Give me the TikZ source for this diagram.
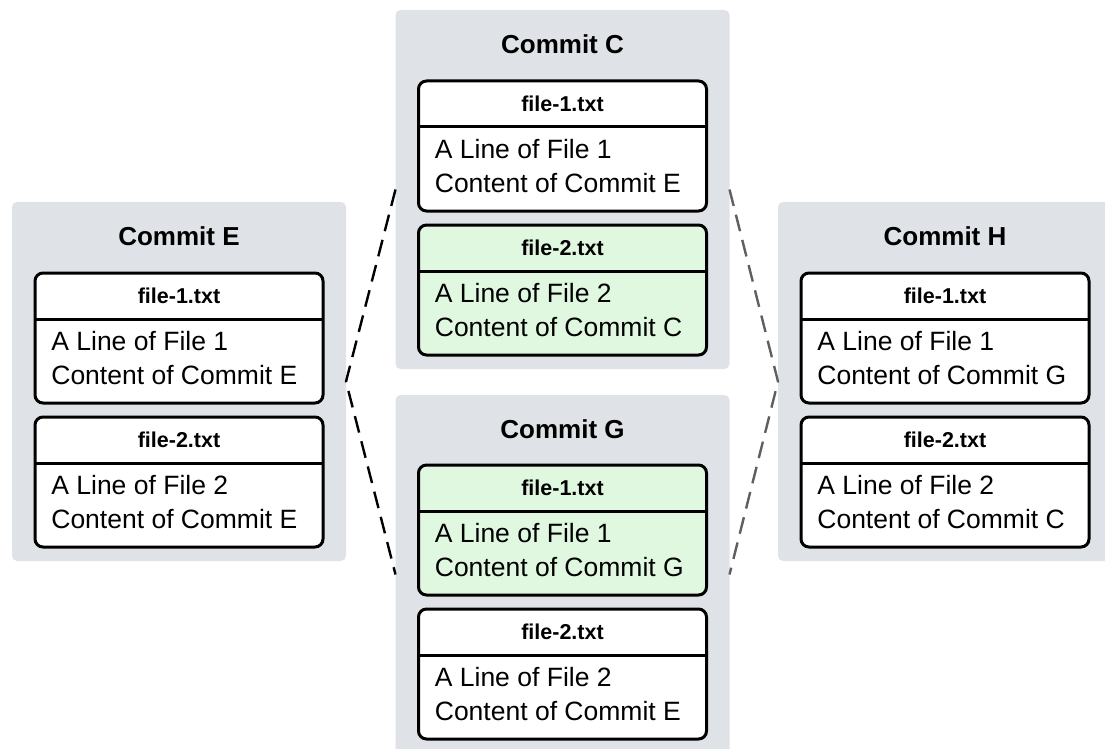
\documentclass[tikz,border=0pt]{standalone}
\usepackage{fontspec}
\setmainfont{Liberation Sans}
\definecolor{panelgray}{RGB}{223,226,231}
\definecolor{changedgreen}{RGB}{224,248,224}
\definecolor{linkgray}{RGB}{95,95,95}
\tikzset{every picture/.style={line width=0.75pt},
  commitpanel/.style={fill=panelgray, rounded corners=5pt, minimum width=334pt, minimum height=359pt, inner sep=0pt, outer sep=0pt},
  committitle/.style={font=\bfseries\fontsize{26}{30}\selectfont, inner sep=0pt},
  filebox/.style={draw=black, line width=3pt, fill=white, rounded corners=8pt, minimum width=288pt, minimum height=130pt, inner sep=0pt, outer sep=0pt},
  filehead/.style={font=\bfseries\fontsize{21.5}{24}\selectfont, inner sep=0pt},
  filetext/.style={font=\fontsize{26.5}{34}\selectfont, align=left, anchor=west, inner sep=0pt},
  dashlink/.style={line width=2.4pt, dash pattern=on 17pt off 9pt}
}
\begin{document}
\begin{tikzpicture}[x=1pt,y=1pt,yscale=-1]
\useasboundingbox (0,0) rectangle (1105,749);
\clip (0,0) rectangle (1105,749);

% Commit Panels
\node [commitpanel] (pE) at (179,381.5) {};
\node [commitpanel] (pC) at (562.5,189.5) {};
\node [commitpanel] (pG) at (562.5,574.5) {};
\node [commitpanel] (pH) at (945,381.5) {};

% Dashed Links
\draw [dashlink]    (pC.west) -- (pE.east) -- (pG.west) ;
\draw [dashlink, linkgray]    (pC.east) -- (pH.west) -- (pG.east) ;

% Commit Titles
\node [committitle] (tE) at (179,236) {Commit E};
\node [committitle] (tC) at (562.5,44) {Commit C};
\node [committitle] (tG) at (562.5,429) {Commit G};
\node [committitle] (tH) at (945,236) {Commit H};

% Commit E
\node [filebox] (e1) at (179,338) {};
\draw [line width=3pt] ([yshift=46pt]e1.north west) -- ([yshift=46pt]e1.north east);
\node [filehead] (e1h) at ([yshift=23pt]e1.north) {file-1.txt};
\node [filetext] (e1t) at ([xshift=16pt,yshift=20pt]e1.west) {A Line of File 1\\Content of Commit E};
\node [filebox] (e2) at (179,482) {};
\draw [line width=3pt] ([yshift=46pt]e2.north west) -- ([yshift=46pt]e2.north east);
\node [filehead] (e2h) at ([yshift=23pt]e2.north) {file-2.txt};
\node [filetext] (e2t) at ([xshift=16pt,yshift=20pt]e2.west) {A Line of File 2\\Content of Commit E};

% Commit C
\node [filebox] (c1) at (562.5,146) {};
\draw [line width=3pt] ([yshift=46pt]c1.north west) -- ([yshift=46pt]c1.north east);
\node [filehead] (c1h) at ([yshift=23pt]c1.north) {file-1.txt};
\node [filetext] (c1t) at ([xshift=16pt,yshift=20pt]c1.west) {A Line of File 1\\Content of Commit E};
\node [filebox, fill=changedgreen] (c2) at (562.5,290) {};
\draw [line width=3pt] ([yshift=46pt]c2.north west) -- ([yshift=46pt]c2.north east);
\node [filehead] (c2h) at ([yshift=23pt]c2.north) {file-2.txt};
\node [filetext] (c2t) at ([xshift=16pt,yshift=20pt]c2.west) {A Line of File 2\\Content of Commit C};

% Commit G
\node [filebox, fill=changedgreen] (g1) at (562.5,530) {};
\draw [line width=3pt] ([yshift=46pt]g1.north west) -- ([yshift=46pt]g1.north east);
\node [filehead] (g1h) at ([yshift=23pt]g1.north) {file-1.txt};
\node [filetext] (g1t) at ([xshift=16pt,yshift=20pt]g1.west) {A Line of File 1\\Content of Commit G};
\node [filebox] (g2) at (562.5,674) {};
\draw [line width=3pt] ([yshift=46pt]g2.north west) -- ([yshift=46pt]g2.north east);
\node [filehead] (g2h) at ([yshift=23pt]g2.north) {file-2.txt};
\node [filetext] (g2t) at ([xshift=16pt,yshift=20pt]g2.west) {A Line of File 2\\Content of Commit E};

% Commit H
\node [filebox] (h1) at (945,338) {};
\draw [line width=3pt] ([yshift=46pt]h1.north west) -- ([yshift=46pt]h1.north east);
\node [filehead] (h1h) at ([yshift=23pt]h1.north) {file-1.txt};
\node [filetext] (h1t) at ([xshift=16pt,yshift=20pt]h1.west) {A Line of File 1\\Content of Commit G};
\node [filebox] (h2) at (945,482) {};
\draw [line width=3pt] ([yshift=46pt]h2.north west) -- ([yshift=46pt]h2.north east);
\node [filehead] (h2h) at ([yshift=23pt]h2.north) {file-2.txt};
\node [filetext] (h2t) at ([xshift=16pt,yshift=20pt]h2.west) {A Line of File 2\\Content of Commit C};

\end{tikzpicture}
\end{document}
